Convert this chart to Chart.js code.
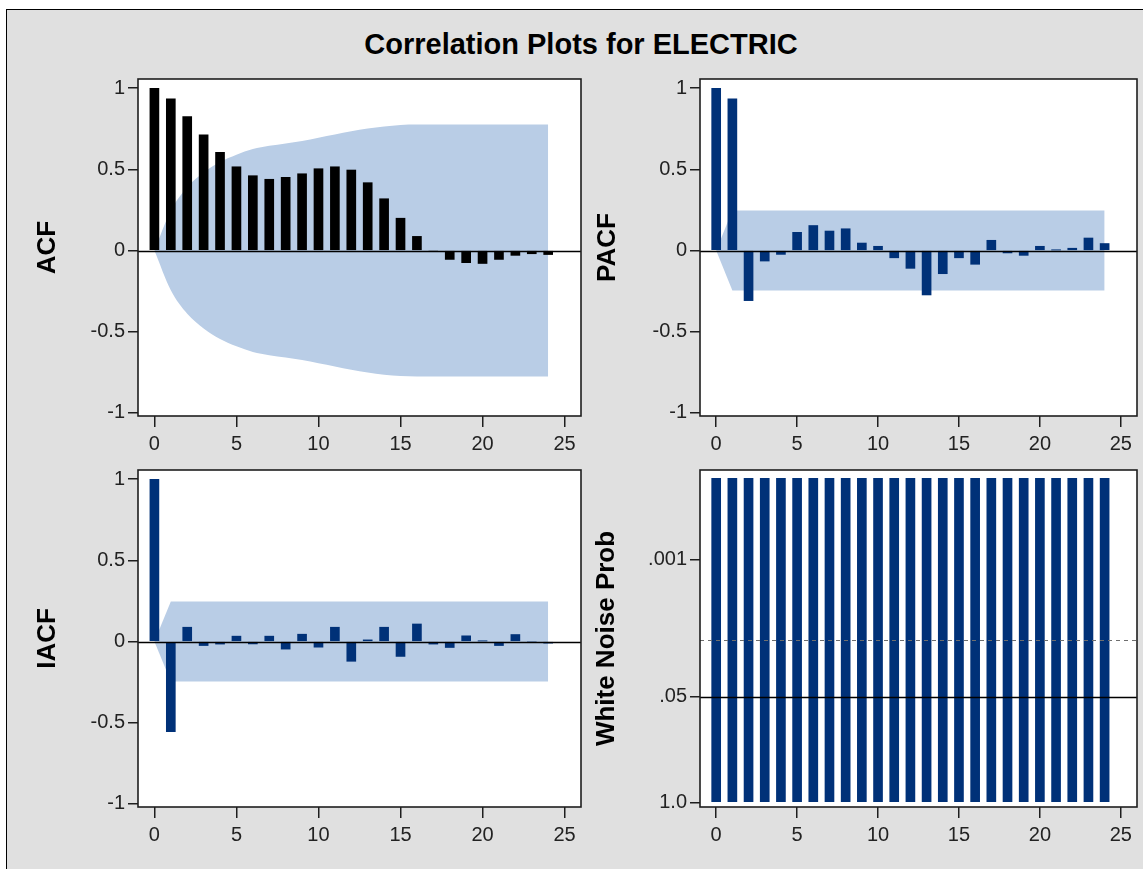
<!DOCTYPE html>
<html>
<head>
<meta charset="utf-8">
<script src="https://cdn.jsdelivr.net/npm/chart.js@4.4.0/dist/chart.umd.min.js"></script>
<style>
  html, body { margin: 0; padding: 0; background: #fff; }
  body { width: 1143px; height: 869px; overflow: hidden; position: relative; font-family: "Liberation Sans", Arial, sans-serif; }
  #frame { position: absolute; left: 6px; top: 9px; width: 1160px; height: 880px; background: #e0e0e0; border: 1px solid #000; box-sizing: border-box; }
  #title { position: absolute; left: 0; width: 1162px; top: 28px; text-align: center; font: bold 29px "Liberation Sans", Arial, sans-serif; color: #000; }
  canvas { position: absolute; }
</style>
</head>
<body>
<div id="frame"></div>
<div id="title">Correlation Plots for ELECTRIC</div>
<canvas id="acfChart"></canvas>
<canvas id="pacfChart"></canvas>
<canvas id="iacfChart"></canvas>
<canvas id="wnChart"></canvas>
<script>
// lags 0..24
const lags = [0, 1, 2, 3, 4, 5, 6, 7, 8, 9, 10, 11, 12, 13, 14, 15, 16, 17, 18, 19, 20, 21, 22, 23, 24];
const lagTicks = [0, 5, 10, 15, 20, 25];

const acfVals = [1.0, 0.935, 0.825, 0.713, 0.605, 0.516, 0.461, 0.439, 0.451, 0.473, 0.504, 0.516, 0.496,
    0.418, 0.319, 0.199, 0.087, -0.004, -0.055, -0.075, -0.08, -0.055, -0.03, -0.02, -0.025];
// 2 std err limits
const acfBand = [0, 0.245, 0.39, 0.48, 0.545, 0.59, 0.625, 0.645, 0.66, 0.675, 0.695, 0.715, 0.735,
    0.752, 0.765, 0.774, 0.777, 0.777, 0.777, 0.777, 0.777, 0.777, 0.777, 0.777, 0.777];

const pacfVals = [1.0, 0.935, -0.309, -0.065, -0.024, 0.112, 0.154, 0.12, 0.134, 0.046, 0.026, -0.045, -0.11,
    -0.274, -0.143, -0.045, -0.085, 0.063, -0.015, -0.03, 0.026, 0.003, 0.014, 0.077, 0.043];
const pacfBand = [0, 0.247, 0.247, 0.247, 0.247, 0.247, 0.247, 0.247, 0.247, 0.247, 0.247, 0.247, 0.247,
    0.247, 0.247, 0.247, 0.247, 0.247, 0.247, 0.247, 0.247, 0.247, 0.247, 0.247, 0.247];

const iacfVals = [1.0, -0.555, 0.088, -0.025, -0.016, 0.033, -0.015, 0.033, -0.047, 0.045, -0.035, 0.088, -0.122,
    0.01, 0.088, -0.092, 0.108, -0.016, -0.037, 0.035, 0.003, -0.025, 0.043, -0.003, -0.01];
const iacfBand = [0, 0.247, 0.247, 0.247, 0.247, 0.247, 0.247, 0.247, 0.247, 0.247, 0.247, 0.247, 0.247,
    0.247, 0.247, 0.247, 0.247, 0.247, 0.247, 0.247, 0.247, 0.247, 0.247, 0.247, 0.247];

const corrTicks = [-1, -0.5, 0, 0.5, 1];
const corrTickLabels = ['-1', '-0.5', '0', '0.5', '1'];

// white noise p-values (all below .0001, drawn at the cap)
const wnProb = [0.0001, 0.0001, 0.0001, 0.0001, 0.0001, 0.0001, 0.0001, 0.0001, 0.0001, 0.0001, 0.0001, 0.0001, 0.0001,
    0.0001, 0.0001, 0.0001, 0.0001, 0.0001, 0.0001, 0.0001, 0.0001, 0.0001, 0.0001, 0.0001, 0.0001];
const wnTickProbs = [1.0, 0.05, 0.001];
const wnTickLabels = ['1.0', '.05', '.001'];


const barNavy = '#003178';
const bandBlue = '#b9cde6';
const fontFamily = '"Liberation Sans", Arial, sans-serif';

const ML = 110, MT = 12, MR = 20, MB = 50;

const framePlugin = {
    id: 'frame',
    beforeDraw(chart) {
        const a = chart.chartArea;
        chart.ctx.save();
        chart.ctx.fillStyle = '#fff';
        chart.ctx.fillRect(a.left, a.top, a.right - a.left, a.bottom - a.top);
        chart.ctx.restore();
    },
    afterDatasetsDraw(chart, args, opts) {
        const ctx = chart.ctx;
        const a = chart.chartArea;
        const y = chart.scales.y;
        ctx.save();
        (opts.lines || []).forEach(l => {
            const py = Math.round(y.getPixelForValue(l.value)) + 0.5;
            ctx.strokeStyle = l.color;
            ctx.lineWidth = l.width || 1.3;
            ctx.setLineDash(l.dash || []);
            ctx.beginPath();
            ctx.moveTo(a.left, py);
            ctx.lineTo(a.right, py);
            ctx.stroke();
        });
        ctx.setLineDash([]);
        ctx.strokeStyle = '#1e1e1e';
        ctx.lineWidth = 1.6;
        ctx.strokeRect(a.left, a.top, a.right - a.left, a.bottom - a.top);
        ctx.restore();
    }
};

function xScale() {
    return {
        type: 'linear',
        min: -1,
        max: 26,
        offset: false,
        afterFit: s => { s.height = MB; },
        afterBuildTicks: s => { s.ticks = lagTicks.map(v => ({ value: v })); },
        grid: { offset: false, drawOnChartArea: false, drawTicks: true, tickLength: 11, color: '#1e1e1e', lineWidth: 1.5 },
        border: { display: false },
        ticks: { color: '#222', font: { family: fontFamily, size: 20 }, padding: 5, maxRotation: 0 }
    };
}

function yScale(title, titlePad, min, max, tickVals, tickLabels) {
    return {
        type: 'linear',
        min: min,
        max: max,
        afterFit: s => { s.width = ML; },
        afterBuildTicks: s => { s.ticks = tickVals.map(v => ({ value: v })); },
        grid: { drawOnChartArea: false, drawTicks: true, tickLength: 10, color: '#1e1e1e', lineWidth: 1.5 },
        border: { display: false },
        ticks: {
            color: '#222',
            font: { family: fontFamily, size: 20 },
            padding: 3,
            callback: (v, i) => tickLabels[i]
        },
        title: {
            display: true,
            text: title,
            color: '#000',
            font: { family: fontFamily, size: 26, weight: 'bold' },
            padding: { top: titlePad, bottom: 0 }
        }
    };
}

function makePanel(id, rect, datasets, yOpts, lines) {
    const c = document.getElementById(id);
    c.width = rect.r - rect.l + ML + MR;
    c.height = rect.b - rect.t + MT + MB;
    c.style.left = (rect.l - ML) + 'px';
    c.style.top = (rect.t - MT) + 'px';
    return new Chart(c, {
        type: 'bar',
        data: { datasets: datasets },
        options: {
            responsive: false,
            animation: false,
            layout: { padding: { left: 0, top: MT, right: MR, bottom: 0 } },
            scales: { x: xScale(), y: yOpts },
            plugins: {
                legend: { display: false },
                tooltip: { enabled: false },
                frame: { lines: lines }
            }
        },
        plugins: [framePlugin]
    });
}

function corrDatasets(vals, band, barColor, smooth) {
    return [{
            type: 'bar',
            data: lags.map((x, i) => ({ x: x, y: vals[i] })),
            backgroundColor: barColor,
            borderWidth: 0,
            barThickness: 9,
            order: 0
        },
        {
            type: 'line',
            data: lags.map((x, i) => ({ x: x, y: band[i] })),
            fill: '+1',
            backgroundColor: bandBlue,
            borderColor: 'transparent',
            borderWidth: 0,
            pointRadius: 0,
            cubicInterpolationMode: smooth ? 'monotone' : 'default',
            tension: 0,
            order: 1
        },
        {
            type: 'line',
            data: lags.map((x, i) => ({ x: x, y: -band[i] })),
            fill: false,
            borderColor: 'transparent',
            borderWidth: 0,
            pointRadius: 0,
            cubicInterpolationMode: smooth ? 'monotone' : 'default',
            tension: 0,
            order: 2
        }
    ];
}

const zeroLine = [{ value: 0, color: '#000', width: 1.3 }];

const acfChart = makePanel('acfChart', { l: 138, t: 76, r: 581, b: 416 },
    corrDatasets(acfVals, acfBand, '#000', true),
    yScale('ACF', 4, -1.02, 1.057, corrTicks, corrTickLabels), zeroLine);

const pacfChart = makePanel('pacfChart', { l: 700, t: 76, r: 1137, b: 416 },
    corrDatasets(pacfVals, pacfBand, barNavy, false),
    yScale('PACF', 2, -1.02, 1.057, corrTicks, corrTickLabels), zeroLine);

const iacfChart = makePanel('iacfChart', { l: 138, t: 467, r: 581, b: 807 },
    corrDatasets(iacfVals, iacfBand, barNavy, false),
    yScale('IACF', 4, -1.02, 1.057, corrTicks, corrTickLabels), zeroLine);

// white noise panel uses -log10(p) so small p sits high
const wnTickVals = wnTickProbs.map(p => -Math.log10(p));
const wnChart = makePanel('wnChart', { l: 700, t: 467, r: 1137, b: 807 },
    [{
        type: 'bar',
        data: lags.map((x, i) => ({ x: x, y: -Math.log10(wnProb[i]) })),
        backgroundColor: barNavy,
        borderWidth: 0,
        barThickness: 9
    }],
    yScale('White Noise Prob', 1, -0.058, 4.104, wnTickVals, wnTickLabels),
    [
        { value: -Math.log10(0.01), color: '#6e6e6e', width: 1, dash: [4, 4] },
        { value: -Math.log10(0.05), color: '#000', width: 1.3 }
    ]);
</script>
</body>
</html>
